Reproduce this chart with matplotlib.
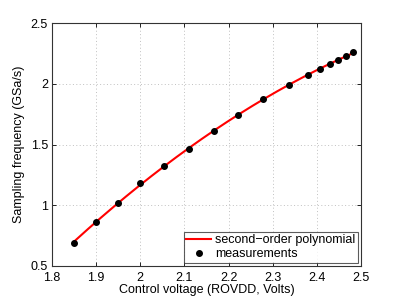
import numpy as np
import matplotlib
matplotlib.use("Agg")
from matplotlib import pyplot as plt

plt.rcParams['font.family'] = ['Liberation Sans', 'DejaVu Sans']

# measured control voltage (V) and sampling frequency (GSa/s)
voltage = [1.85, 1.90, 1.95, 2.00, 2.054, 2.11, 2.166, 2.222, 2.279, 2.337,
           2.380, 2.406, 2.430, 2.448, 2.466, 2.483]
freq = [0.692, 0.865, 1.021, 1.18, 1.325, 1.465, 1.611, 1.745, 1.872, 1.987,
        2.072, 2.119, 2.163, 2.198, 2.231, 2.259]

xticks = [1.8, 1.9, 2.0, 2.1, 2.2, 2.3, 2.4, 2.5]
yticks = [0.5, 1.0, 1.5, 2.0, 2.5]

v = np.array(voltage)
f = np.array(freq)
coef = np.polyfit(v, f, 2)
v_fit = np.linspace(v[0], v[-1], 200)
f_fit = np.polyval(coef, v_fit)

fig = plt.figure(figsize=(3.99, 3.0), dpi=100)
ax = fig.add_axes([52/399, 34/300, 309/399, 243/300])

ax.plot(v_fit, f_fit, color='red', lw=1.5, label='second\u2212order polynomial')
ax.plot(v, f, 'o', color='black', ms=4, label='measurements')

ax.set_xlim(1.8, 2.5)
ax.set_ylim(0.5, 2.5)
ax.set_xticks(xticks)
ax.set_xticklabels(['1.8', '1.9', '2', '2.1', '2.2', '2.3', '2.4', '2.5'])
ax.set_yticks(yticks)
ax.set_yticklabels(['0.5', '1', '1.5', '2', '2.5'])
ax.tick_params(direction='in', labelsize=9, length=3, width=0.6,
               top=True, right=True)
ax.tick_params(axis='x', pad=4)
ax.tick_params(axis='y', pad=3)
ax.grid(True, linestyle=(0, (1, 2.5)), color='#c0c0c0', lw=0.7)
for s in ax.spines.values():
  s.set_linewidth(0.8)
  s.set_color('#333333')

ax.set_xlabel('Control voltage (ROVDD, Volts)', fontsize=9, labelpad=0)
ax.set_ylabel('Sampling frequency (GSa/s)', fontsize=9, labelpad=4)

leg = ax.legend(loc='lower right', fontsize=9, fancybox=False,
                edgecolor='#333333', borderaxespad=0.25, handlelength=2.0,
                handletextpad=0.3, borderpad=0.2, labelspacing=0.15)
leg.get_frame().set_linewidth(0.8)

fig.savefig('out.png', dpi=100)
